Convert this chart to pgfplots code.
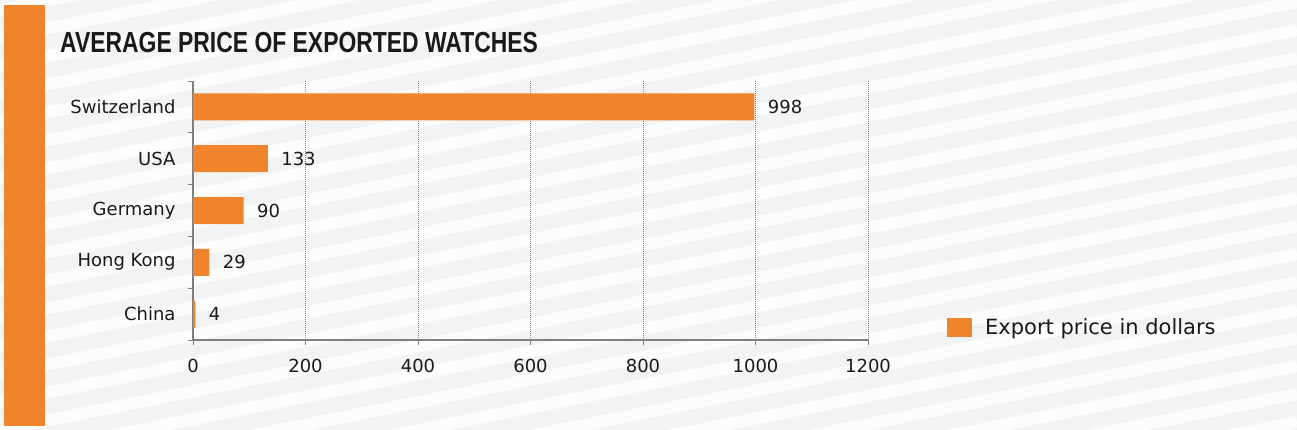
\documentclass[border=0pt]{standalone}
\usepackage{pgfplots}
\pgfplotsset{compat=1.18}
\usepackage{fontspec}
\usepackage{graphicx}
\setmainfont{DejaVu Sans}
\newfontfamily\titlefont{Liberation Sans}
\definecolor{barorange}{HTML}{F0842C}
\definecolor{axisgray}{HTML}{7F7F7F}
\definecolor{bggray}{HTML}{F3F3F3}
\definecolor{stripe}{HTML}{FCFCFC}
\definecolor{txt}{HTML}{1A1A1A}
\begin{document}
\begin{tikzpicture}[x=1pt,y=1pt]
\path[use as bounding box] (0,0) rectangle (1297,430);
% striped background
\fill[bggray] (0,0) rectangle (1297,430);
\begin{scope}
  \clip (0,0) rectangle (1297,430);
  \foreach \k in {-12,...,18} {
    \draw[stripe, line width=12] (0,\k*28) -- (1297,\k*28+260);
  }
\end{scope}
\fill[barorange] (4,4) rectangle (45,425);
\node[anchor=base west, inner sep=0, text=txt] at (60,377)
  {\scalebox{0.79}[1]{\fontsize{29}{31}\titlefont\bfseries AVERAGE PRICE OF EXPORTED WATCHES}};

\begin{axis}[
    at={(193pt,90pt)}, anchor=south west,
    scale only axis, width=675pt, height=259pt,
    xbar, bar width=27pt,
    xmin=0, xmax=1200,
    ymin=-0.5, ymax=4.5, y dir=reverse,
    axis x line=bottom, axis y line=left,
    axis line style={-, axisgray, line width=1.5pt},
    xtick={0,200,...,1200},
    ytick={-0.5,0.5,1.5,2.5,3.5,4.5},
    yticklabels={},
    extra y ticks={0,1,2,3,4},
    extra y tick labels={Switzerland,USA,Germany,Hong Kong,China},
    extra y tick style={tick style={draw=none}, grid=none},
    tick align=outside, major tick length=5pt,
    tick style={axisgray, line width=1pt},
    xmajorgrids,
    major grid style={axisgray, line width=1pt, dash pattern=on 1pt off 1pt},
    ticklabel style={font=\fontsize{18}{20}\selectfont, text=txt},
    /pgf/number format/assume math mode=true,
    /pgf/number format/1000 sep={},
    xticklabel style={yshift=-11pt},
    yticklabel style={xshift=-9pt},
    nodes near coords,
    nodes near coords style={font=\fontsize{18}{20}\selectfont, text=txt, anchor=west, xshift=10pt},
    legend style={at={(1.117,0.05)}, anchor=west, draw=none, fill=none,
      inner sep=0pt, font=\fontsize{21}{23}\selectfont, text=txt},
    legend image code/.code={\fill[barorange] (0pt,-9.5pt) rectangle (25pt,9.5pt);
      \path (0pt,0pt) -- (36pt,0pt);},
  ]
  \addplot[fill=barorange, draw=none] coordinates {
    (998,0) (133,1) (90,2) (29,3) (4,4)
  };
  \addlegendentry{Export price in dollars}
\end{axis}
\end{tikzpicture}
\end{document}
